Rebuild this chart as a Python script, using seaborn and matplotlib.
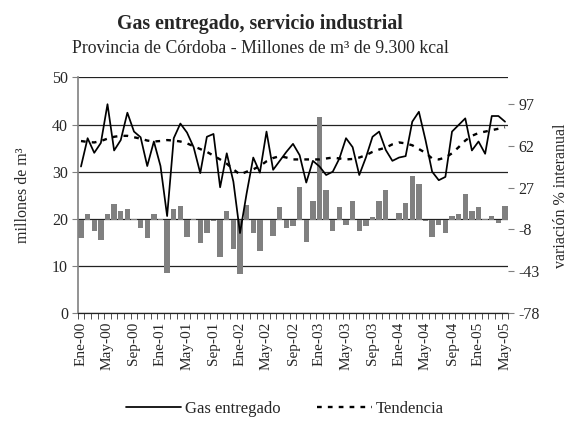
import matplotlib
matplotlib.use("Agg")
import matplotlib.pyplot as plt
import seaborn as sns
import pandas as pd
import numpy as np

# ---------------- data ----------------
anios = ["00", "01", "02", "03", "04", "05"]
nombres_mes = ["Ene", "Feb", "Mar", "Abr", "May", "Jun", "Jul", "Ago", "Sep", "Oct", "Nov", "Dic"]
meses = [f"{m}-{a}" for a in anios for m in nombres_mes][:65]   # Ene-00 .. May-05

gas = [31.1, 37.1, 34.0, 36.1, 44.3, 34.5, 36.7, 42.5, 38.5, 37.3, 31.2, 36.4,
       31.2, 20.6, 37.1, 40.2, 38.3, 35.2, 29.7, 37.4, 38.0, 26.7, 33.9, 27.9,
       17.0, 25.4, 33.0, 29.8, 38.5, 30.4, 32.3, 34.2, 35.9, 33.5, 27.7, 32.3,
       31.1, 29.3, 30.0, 32.8, 37.1, 35.2, 29.3, 33.0, 37.4, 38.5, 34.6, 32.3,
       33.0, 33.3, 40.6, 42.7, 36.7, 30.0, 28.2, 28.9, 38.5, 39.9, 41.3, 34.5,
       36.4, 33.8, 41.8, 41.8, 40.6]

tendencia = [36.5, 36.3, 36.2, 36.5, 37.0, 37.4, 37.6, 37.6, 37.3, 37.0, 36.6, 36.4,
             36.5, 36.7, 36.6, 36.4, 36.0, 35.4, 34.8, 34.2, 33.4, 32.6, 31.7, 30.5,
             29.4, 30.0, 30.5, 31.2, 32.2, 32.9, 33.3, 33.0, 32.6, 32.6, 32.6, 32.6,
             32.6, 32.8, 33.0, 32.8, 32.6, 32.7, 33.0, 33.5, 34.2, 34.7, 35.1, 35.8,
             36.2, 36.0, 35.6, 34.8, 34.0, 32.8, 32.6, 33.0, 33.9, 35.2, 36.6, 37.6,
             38.2, 38.5, 38.8, 39.1, 39.4]

variacion = [-15.3, 4.7, -8.9, -17.2, 4.7, 13.1, 7.0, 8.9, 1.1, -7.0, -15.3, 4.7,
             0.3, -44.6, 8.7, 11.4, -14.5, 1.1, -19.5, -11.2, -1.0, -31.2, 7.0, -24.6,
             -45.4, 12.8, -11.2, -25.6, -0.5, -13.1, 10.6, -7.0, -5.3, 27.3, -18.7, 16.1,
             85.8, 24.6, -9.5, 10.6, -4.7, 16.1, -8.9, -5.3, 2.8, 16.1, 24.6, 0.0,
             5.9, 14.2, 36.2, 30.1, -1.0, -14.5, -4.2, -11.2, 3.0, 4.5, 21.2, 7.2,
             10.6, 1.0, 3.0, -2.8, 11.2]

ticks_izq = [0, 10, 20, 30, 40, 50]
ticks_der = [-78, -43, -8, 27, 62, 97]

df = pd.DataFrame({"idx": np.arange(len(meses)), "mes": meses, "gas": gas,
                   "tendencia": tendencia, "variacion": variacion})

# ---------------- style ----------------
sns.set_style("white")
plt.rcParams["font.family"] = ["Liberation Serif", "DejaVu Serif"]

fig = plt.figure(figsize=(5.72, 4.22), dpi=100)
ax = fig.add_axes([0.1358, 0.2576, 0.7529, 0.5592])   # grid + left scale
axb = ax.twinx()                                       # bars (right scale)
axl = ax.twinx()                                       # lines (left scale)
ax.set_zorder(0); axb.set_zorder(1); axl.set_zorder(2)
for a in (axb, axl):
    a.patch.set_visible(False)

# bars
sns.barplot(data=df, x="idx", y="variacion", ax=axb, color="#808080",
            saturation=1, width=0.82, linewidth=0)

# lines
sns.lineplot(data=df, x="idx", y="gas", ax=axl, color="black", lw=1.25,
             label="Gas entregado")
sns.lineplot(data=df, x="idx", y="tendencia", ax=axl, color="black", lw=1.7,
             linestyle=(0, (2, 2.6)), label="Tendencia")

# ---------------- axes ----------------
n = len(meses)
for a in (ax, axb, axl):
    a.set_xlim(-0.5, n - 0.5)

ax.set_ylim(0, 50)
axl.set_ylim(0, 50)
axb.set_ylim(-78, 119)

ax.set_yticks(ticks_izq)
ax.set_yticklabels([str(t) for t in ticks_izq], fontsize=11.5)
ax.yaxis.grid(True, color="#222222", lw=0.9)
ax.xaxis.grid(False)
ax.tick_params(axis="y", direction="out", length=4, color="#808080", pad=3, left=True)

axb.set_yticks(ticks_der)
axb.set_yticklabels([str(t) for t in ticks_der], fontsize=11.5)
axb.tick_params(axis="y", direction="out", length=4, color="#808080", pad=3, right=True)
axl.set_yticks([])
axl.set_ylabel("")

# x axis: labels every 4 months, ticks between categories
pos = list(range(0, n, 4))
for a in (axb, axl):
    a.tick_params(axis="x", bottom=False, labelbottom=False)
    a.set_xlabel("")
ax.set_xticks(pos)
ax.set_xticklabels([meses[i] for i in pos], rotation=90, fontsize=11)
ax.tick_params(axis="x", which="major", length=0, pad=6)
ax.set_xticks(np.arange(-0.5, n, 1.0), minor=True)
ax.tick_params(axis="x", which="minor", direction="out", length=4, color="#333333", bottom=True)

for a in (ax, axb, axl):
    for s in ("top", "right", "left", "bottom"):
        a.spines[s].set_visible(False)
ax.spines["left"].set_visible(True)
ax.spines["left"].set_color("#808080")
ax.spines["left"].set_linewidth(1.2)
ax.spines["bottom"].set_visible(True)
ax.spines["bottom"].set_color("#222222")
ax.spines["bottom"].set_linewidth(0.9)

ax.set_ylabel("millones de m³", fontsize=11.5)
ax.yaxis.set_label_coords(-0.108, 0.5)
axb.set_ylabel("variación % interanual", fontsize=11.5, rotation=90)
axb.yaxis.set_label_coords(1.104, 0.5)

# legend
axl.get_legend().remove()
handles, labels = axl.get_legend_handles_labels()
fig.legend(handles, labels, loc="center", bbox_to_anchor=(0.498, 0.031), ncol=2,
           frameon=False, fontsize=12, handlelength=3.3, handletextpad=0.25,
           columnspacing=2.2)

# titles
fig.text(0.4545, 0.9313, "Gas entregado, servicio industrial", ha="center",
         va="baseline", fontsize=14.3, fontweight="bold")
fig.text(0.4545, 0.8737, "Provincia de Córdoba - Millones de m³ de 9.300 kcal",
         ha="center", va="baseline", fontsize=12.8)

fig.savefig("out.png", dpi=100)
